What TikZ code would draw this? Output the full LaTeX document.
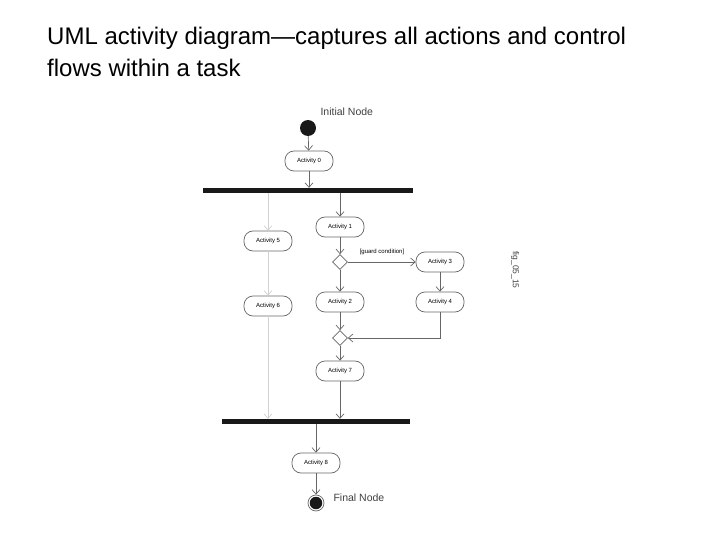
\documentclass[tikz,border=0pt]{standalone}
\usepackage{fontspec}
\setmainfont{Liberation Sans}
\usetikzlibrary{arrows.meta,shapes.geometric}
\begin{document}
\begin{tikzpicture}[x=1pt,y=-1pt,
  act/.style={draw=black!60,line width=0.7pt,rounded corners=9pt,minimum width=48pt,minimum height=20pt,font=\fontsize{6}{7}\selectfont,inner sep=1pt,fill=white},
  flow/.style={draw=black!60,line width=0.7pt,-{Straight Barb[length=4.5pt,width=8pt]}},
  pale/.style={draw=black!18,line width=0.7pt,-{Straight Barb[length=4.5pt,width=8pt]}},
  dec/.style={diamond,draw=black!60,line width=0.7pt,minimum width=15pt,minimum height=15pt,inner sep=0pt,fill=white},
  bar/.style={fill=black!90,draw=none,inner sep=0pt},
  lbl/.style={font=\fontsize{10.5}{12}\selectfont,text=black!75}]
\useasboundingbox (0,0) rectangle (720,540);
% title
\node[anchor=north west,align=left,font=\fontsize{24}{32}\selectfont,inner sep=0pt] (title) at (47,27)
  {UML activity diagram---captures all actions and control\\flows within a task};
% nodes
\node[circle,fill=black!90,minimum size=16pt,inner sep=0pt] (init) at (308,128) {};
\node[lbl,anchor=west] (initl) at (317,112) {Initial Node};
\node[act] (a0) at (309,161) {Activity 0};
\node[bar,minimum width=210pt,minimum height=5pt] (fork) at (308,190.5) {};
\node[act] (a1) at (340,227) {Activity 1};
\node[act] (a5) at (268,241) {Activity 5};
\node[dec] (d1) at (340,262) {};
\node[font=\fontsize{6}{7}\selectfont,anchor=south] (guard) at (382,258) {[guard condition]};
\node[act] (a3) at (440,262) {Activity 3};
\node[act] (a2) at (340,302) {Activity 2};
\node[act] (a4) at (440,302) {Activity 4};
\node[act] (a6) at (268,306) {Activity 6};
\node[dec] (d2) at (340,338) {};
\node[act] (a7) at (340,371) {Activity 7};
\node[bar,minimum width=188pt,minimum height=5pt] (join) at (316,421.5) {};
\node[act] (a8) at (316,463) {Activity 8};
\node[circle,draw=black!60,line width=0.7pt,minimum size=16pt,inner sep=0pt] (fin) at (316,503) {};
\node[circle,fill=black!90,minimum size=12.5pt,inner sep=0pt] (finin) at (fin.center) {};
\node[lbl,anchor=west] (finl) at (330,498) {Final Node};
\node[font=\fontsize{8.5}{9}\selectfont,text=black!75,rotate=-90] (fig) at (515,270) {fig\_05\_15};
% flows
\draw[flow] (init) -- (a0);
\draw[flow] (a0) -- (a0|-fork.north);
\draw[flow] (fork.south-|a1) -- (a1);
\draw[pale] (fork.south-|a5) -- (a5);
\draw[flow] (a1) -- (d1);
\draw[flow] (d1) -- (a3);
\draw[flow] (d1) -- (a2);
\draw[flow] (a3) -- (a4);
\draw[pale] (a5) -- (a6);
\draw[flow] (a2) -- (d2);
\draw[flow] (a4.south) |- (d2.east);
\draw[flow] (d2) -- (a7);
\draw[flow] (a7) -- (a7|-join.north);
\draw[pale] (a6) -- (a6|-join.north);
\draw[flow] (join.south-|a8) -- (a8);
\draw[flow] (a8) -- (fin);
\end{tikzpicture}
\end{document}
